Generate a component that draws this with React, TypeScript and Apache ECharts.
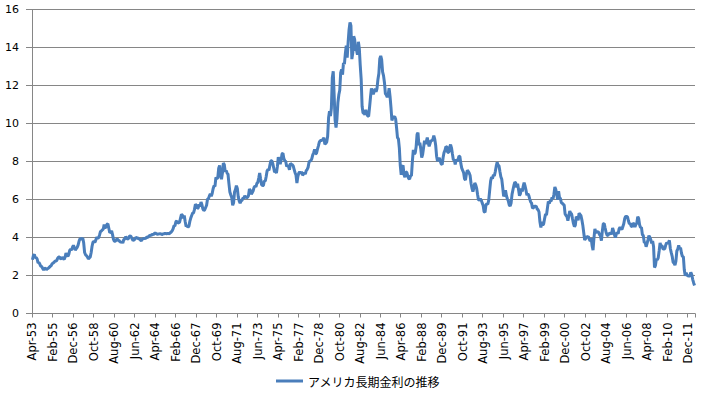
import React, { useEffect, useRef } from "react";
import * as echarts from "echarts";

// US long-term (10Y) interest rate, monthly, from Apr 1953
const START_YEAR = 1953;
const START_MONTH = 3; // 0-based: April
const MONTH_NAMES = ["Jan", "Feb", "Mar", "Apr", "May", "Jun", "Jul", "Aug", "Sep", "Oct", "Nov", "Dec"];

const rates1950s = [
  2.83, 3.05, 3.11, 2.93, 2.95, 2.87, 2.66, 2.68, 2.59,
  2.48, 2.47, 2.37, 2.29, 2.37, 2.38, 2.30, 2.36, 2.38, 2.43, 2.48, 2.51,
  2.61, 2.65, 2.68, 2.75, 2.76, 2.78, 2.90, 2.97, 2.97, 2.88, 2.89, 2.96,
  2.90, 2.84, 2.96, 3.18, 3.07, 3.00, 3.11, 3.33, 3.38, 3.34, 3.49, 3.59,
  3.46, 3.34, 3.41, 3.48, 3.60, 3.80, 3.93, 3.93, 3.92, 3.97, 3.72, 3.21,
  3.09, 3.05, 2.98, 2.88, 2.92, 2.97, 3.20, 3.54, 3.76, 3.80, 3.74, 3.86,
  4.02, 3.96, 3.99, 4.12, 4.31, 4.34, 4.40, 4.43, 4.68, 4.53, 4.53, 4.69,
];
const rates1960s = [
  4.72, 4.49, 4.25, 4.28, 4.35, 4.15, 3.90, 3.80, 3.80, 3.89, 3.93, 3.84,
  3.84, 3.78, 3.74, 3.78, 3.71, 3.88, 3.92, 4.04, 3.98, 3.92, 3.94, 4.06,
  4.08, 4.04, 3.93, 3.84, 3.87, 3.91, 4.01, 3.98, 3.98, 3.93, 3.92, 3.86,
  3.83, 3.92, 3.93, 3.97, 3.93, 3.99, 4.02, 4.00, 4.08, 4.11, 4.12, 4.13,
  4.17, 4.15, 4.22, 4.23, 4.20, 4.17, 4.19, 4.19, 4.20, 4.19, 4.15, 4.18,
  4.19, 4.21, 4.21, 4.20, 4.21, 4.21, 4.20, 4.25, 4.29, 4.35, 4.45, 4.62,
  4.61, 4.83, 4.87, 4.75, 4.78, 4.81, 5.02, 5.22, 5.18, 5.01, 5.16, 4.84,
  4.58, 4.63, 4.54, 4.59, 4.85, 5.02, 5.16, 5.28, 5.30, 5.48, 5.75, 5.70,
  5.53, 5.56, 5.74, 5.64, 5.87, 5.72, 5.50, 5.42, 5.46, 5.58, 5.70, 6.03,
  6.04, 6.19, 6.30, 6.17, 6.32, 6.57, 6.72, 6.69, 7.16, 7.10, 7.14, 7.65,
];
const rates1970s = [
  7.79, 7.24, 7.07, 7.39, 7.91, 7.84, 7.46, 7.53, 7.39, 7.33, 6.84, 6.39,
  6.24, 6.11, 5.70, 5.83, 6.39, 6.52, 6.73, 6.58, 6.14, 5.93, 5.81, 5.93,
  5.95, 6.08, 6.07, 6.19, 6.13, 6.11, 6.11, 6.21, 6.55, 6.48, 6.28, 6.36,
  6.46, 6.64, 6.71, 6.67, 6.85, 6.90, 7.13, 7.40, 7.09, 6.79, 6.73, 6.74,
  6.99, 6.96, 7.21, 7.51, 7.58, 7.54, 7.81, 8.04, 8.04, 7.90, 7.68, 7.43,
  7.50, 7.39, 7.73, 8.23, 8.06, 7.86, 8.06, 8.40, 8.43, 8.14, 8.05, 8.00,
  7.74, 7.79, 7.73, 7.56, 7.90, 7.86, 7.83, 7.77, 7.59, 7.41, 7.29, 6.87,
  7.21, 7.39, 7.46, 7.37, 7.46, 7.28, 7.33, 7.40, 7.34, 7.52, 7.58, 7.69,
  7.96, 8.03, 8.04, 8.15, 8.35, 8.46, 8.64, 8.41, 8.42, 8.64, 8.81, 9.01,
  9.10, 9.10, 9.12, 9.18, 9.25, 8.91, 8.95, 9.03, 9.33, 10.30, 10.65, 10.39,
];
const rates1980s = [
  10.80, 12.41, 12.75, 11.47, 10.18, 9.78, 10.25, 11.10, 11.51, 11.75, 12.68, 12.84,
  12.57, 13.19, 13.12, 13.68, 14.10, 13.47, 14.28, 14.94, 15.32, 15.15, 13.39, 13.72,
  14.59, 14.43, 13.86, 13.87, 13.62, 14.30, 13.95, 13.06, 12.34, 10.91, 10.55, 10.54,
  10.46, 10.72, 10.51, 10.40, 10.38, 10.85, 11.38, 11.85, 11.65, 11.54, 11.69, 11.83,
  11.67, 11.84, 12.32, 12.63, 13.41, 13.56, 13.36, 12.72, 12.52, 12.16, 11.57, 11.50,
  11.38, 11.51, 11.86, 11.43, 10.85, 10.16, 10.31, 10.33, 10.37, 10.24, 9.78, 9.26,
  9.19, 8.70, 7.78, 7.30, 7.71, 7.80, 7.30, 7.17, 7.45, 7.43, 7.25, 7.11,
  7.08, 7.25, 7.25, 8.02, 8.61, 8.40, 8.45, 8.76, 9.42, 9.52, 8.86, 8.99,
  8.67, 8.21, 8.37, 8.72, 9.09, 8.92, 9.06, 9.26, 8.98, 8.80, 8.96, 9.11,
  9.09, 9.17, 9.36, 9.18, 8.86, 8.28, 8.02, 8.11, 8.19, 8.01, 7.87, 7.84,
];
const rates1990s = [
  8.21, 8.47, 8.59, 8.79, 8.76, 8.48, 8.47, 8.75, 8.89, 8.72, 8.39, 8.08,
  8.09, 7.85, 8.11, 8.04, 8.07, 8.28, 8.27, 7.90, 7.65, 7.53, 7.42, 7.09,
  7.03, 7.34, 7.54, 7.48, 7.39, 7.26, 6.84, 6.59, 6.42, 6.59, 6.87, 6.77,
  6.60, 6.26, 5.98, 5.97, 6.04, 5.96, 5.81, 5.68, 5.36, 5.33, 5.72, 5.77,
  5.75, 5.97, 6.48, 6.97, 7.18, 7.10, 7.30, 7.24, 7.46, 7.74, 7.96, 7.81,
  7.78, 7.47, 7.20, 7.06, 6.63, 6.17, 6.28, 6.49, 6.20, 6.04, 5.93, 5.71,
  5.65, 5.81, 6.27, 6.51, 6.74, 6.91, 6.87, 6.64, 6.83, 6.53, 6.20, 6.30,
  6.58, 6.42, 6.69, 6.89, 6.71, 6.49, 6.22, 6.30, 6.21, 6.03, 5.88, 5.81,
  5.54, 5.57, 5.65, 5.64, 5.65, 5.50, 5.46, 5.34, 4.81, 4.53, 4.83, 4.65,
  4.72, 5.00, 5.23, 5.18, 5.54, 5.90, 5.79, 5.94, 5.92, 6.11, 6.03, 6.28,
];
const rates2000s = [
  6.66, 6.52, 6.26, 5.99, 6.44, 6.10, 6.05, 5.83, 5.80, 5.74, 5.72, 5.24,
  5.16, 5.10, 4.89, 5.14, 5.39, 5.28, 5.24, 4.97, 4.73, 4.57, 4.65, 5.09,
  5.04, 4.91, 5.28, 5.21, 5.16, 4.93, 4.65, 4.26, 3.87, 3.94, 4.05, 4.03,
  4.05, 3.90, 3.81, 3.96, 3.57, 3.33, 3.98, 4.45, 4.27, 4.29, 4.30, 4.27,
  4.15, 4.08, 3.83, 4.35, 4.72, 4.73, 4.50, 4.28, 4.13, 4.10, 4.19, 4.23,
  4.22, 4.17, 4.50, 4.34, 4.14, 4.00, 4.18, 4.26, 4.20, 4.46, 4.54, 4.47,
  4.42, 4.57, 4.72, 4.99, 5.11, 5.11, 5.09, 4.88, 4.72, 4.73, 4.60, 4.56,
  4.76, 4.72, 4.56, 4.69, 4.75, 5.10, 5.00, 4.67, 4.52, 4.53, 4.15, 4.10,
  3.74, 3.74, 3.51, 3.68, 3.88, 4.10, 4.01, 3.89, 3.69, 3.81, 3.53, 2.42,
  2.52, 2.87, 2.82, 2.93, 3.29, 3.72, 3.56, 3.59, 3.40, 3.39, 3.40, 3.59,
];
const rates2010s = [
  3.73, 3.69, 3.73, 3.85, 3.42, 3.20, 3.01, 2.70, 2.65, 2.54, 2.76, 3.29,
  3.39, 3.58, 3.41, 3.46, 3.17, 3.00, 3.00, 2.30, 1.98, 2.15, 2.01, 1.98,
  1.97, 1.97, 2.17, 2.05, 1.80, 1.62, 1.47,
];

const seriesName = "アメリカ長期金利の推移";
const yTicks = { min: 0, max: 16, interval: 2 };

const values = [
  ...rates1950s, ...rates1960s, ...rates1970s, ...rates1980s,
  ...rates1990s, ...rates2000s, ...rates2010s,
];
const categories = values.map((_, i) => {
  const m = START_MONTH + i;
  const y = START_YEAR + Math.floor(m / 12);
  return `${MONTH_NAMES[m % 12]}-${String(y % 100).padStart(2, "0")}`;
});

export default function App() {
  const ref = useRef<HTMLDivElement>(null);
  useEffect(() => {
    if (!ref.current) return;
    const chart = echarts.init(ref.current, null, { renderer: "svg" });
    const gray = "#868686";
    const blue = "#4A7EBB";
    chart.setOption({
      animation: false,
      backgroundColor: "#ffffff",
      grid: { left: 32, right: 9, top: 9.5, bottom: 82.5, containLabel: false },
      xAxis: {
        type: "category",
        data: categories,
        boundaryGap: true,
        axisLine: { show: true, lineStyle: { color: gray, width: 1 } },
        axisTick: { show: true, interval: 21, length: 4, lineStyle: { color: gray } },
        axisLabel: {
          interval: 21,
          rotate: 90,
          margin: 9,
          fontSize: 11.5,
          fontFamily: "DejaVu Sans",
          color: "#000000",
        },
        splitLine: { show: false },
      },
      yAxis: {
        type: "value",
        min: yTicks.min,
        max: yTicks.max,
        interval: yTicks.interval,
        axisLine: { show: true, lineStyle: { color: gray, width: 1 } },
        axisTick: { show: true, length: 6, lineStyle: { color: gray } },
        axisLabel: {
          margin: 13,
          fontSize: 11,
          fontFamily: "DejaVu Sans",
          color: "#000000",
        },
        splitLine: { show: true, lineStyle: { color: gray, width: 1 } },
      },
      legend: {
        show: true,
        left: 271,
        top: 370,
        itemWidth: 27,
        itemHeight: 3,
        itemGap: 10,
        textStyle: { fontSize: 12, fontFamily: "Noto Sans CJK JP", color: "#000000" },
        data: [{ name: seriesName, icon: "rect", itemStyle: { color: blue } }],
      },
      series: [
        {
          name: seriesName,
          type: "line",
          data: values,
          symbol: "none",
          showSymbol: false,
          lineStyle: { color: blue, width: 3 },
          itemStyle: { color: blue },
        },
      ],
    });
    return () => chart.dispose();
  }, []);
  return (
    <div
      ref={ref}
      style={{ position: "fixed", left: 0, top: 0, width: 704, height: 396, background: "#fff" }}
    />
  );
}
